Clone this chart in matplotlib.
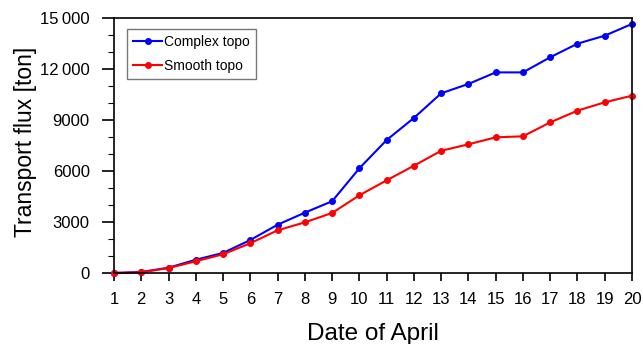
import numpy as np
import matplotlib
matplotlib.use("Agg")
from matplotlib import pyplot as plt
from matplotlib.ticker import MultipleLocator, FuncFormatter

plt.rcParams['font.family'] = ['Liberation Sans', 'DejaVu Sans']

days = np.arange(1, 21)
complex_topo = [0, 60, 310, 780, 1180, 1940, 2840, 3550, 4220, 6160,
                7820, 9120, 10570, 11120, 11800, 11800, 12690, 13490, 13960, 14650]
smooth_topo = [0, 40, 290, 690, 1100, 1750, 2510, 2980, 3530, 4570,
               5450, 6310, 7190, 7570, 7980, 8040, 8860, 9550, 10040, 10430]

fig = plt.figure(figsize=(6.43, 3.44), dpi=100)
ax = fig.add_axes([0.1773, 0.2064, 0.8056, 0.7413])

ax.plot(days, complex_topo, color='blue', lw=1.5, marker='o', ms=4, label='Complex topo', clip_on=False)
ax.plot(days, smooth_topo, color='red', lw=1.5, marker='o', ms=4, label='Smooth topo', clip_on=False)

ax.set_xlim(1, 20)
ax.set_ylim(0, 15000)
ax.set_xticks(days)
ax.yaxis.set_major_locator(MultipleLocator(3000))
ax.yaxis.set_minor_locator(MultipleLocator(1000))

def thousands(v, pos):
    v = int(round(v))
    if v >= 10000:
        return "{}\u2009{:03d}".format(v // 1000, v % 1000)
    return str(v)

ax.yaxis.set_major_formatter(FuncFormatter(thousands))

ax.tick_params(axis='both', which='major', direction='out', width=1.2, labelsize=12)
ax.tick_params(axis='y', which='major', length=9, pad=8.5)
ax.tick_params(axis='x', which='major', length=6, pad=8)
ax.tick_params(axis='y', which='minor', direction='out', length=4.5, width=0.8)
ax.tick_params(top=False, right=False)
for s in ax.spines.values():
    s.set_linewidth(1.2)

ax.set_xlabel('Date of April', fontsize=17.5)
ax.set_ylabel('Transport flux [ton]', fontsize=16.5)
ax.xaxis.set_label_coords(0.5, -0.195)
ax.yaxis.set_label_coords(-0.148, 0.514)

leg = ax.legend(loc='upper left', bbox_to_anchor=(0.025, 0.957), fontsize=10, frameon=True,
                fancybox=False, edgecolor='#555555', handlelength=2.1, handletextpad=0.1,
                borderpad=0.45, labelspacing=0.7, borderaxespad=0)
leg.get_frame().set_linewidth(1.0)

fig.savefig('out.png', dpi=100)
